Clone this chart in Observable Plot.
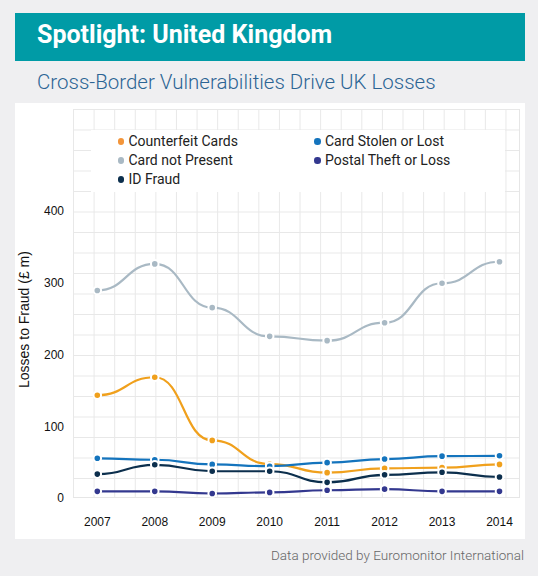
<!DOCTYPE html>
<html>
<head>
<meta charset="utf-8">
<script src="https://cdn.jsdelivr.net/npm/d3@7"></script>
<script src="https://cdn.jsdelivr.net/npm/@observablehq/plot@0.6"></script>
<style>
  html, body { margin: 0; padding: 0; }
  body { width: 538px; height: 576px; background: #efeff1; position: relative; overflow: hidden; font-family: Roboto, sans-serif; }
  .abs { position: absolute; }
  #banner { left: 15px; top: 13px; width: 510px; height: 48px; background: #009ba6; }
  #title { left: 37px; top: 13px; line-height: 44px; font-size: 25px; font-weight: 700; color: #fff; white-space: nowrap; }
  #subtitle { left: 37px; top: 70px; line-height: 24px; font-size: 20.5px; font-weight: 300; color: #2b6494; white-space: nowrap; }
  #panel { left: 15px; top: 103px; width: 510px; height: 436px; background: #fff; }
  #grid { left: 72.8px; top: 108.5px; width: 447px; height: 389.5px; box-sizing: border-box;
    border-right: 1px solid #e6e6e6; border-bottom: 1px solid #e6e6e6;
    background-image: linear-gradient(to right, #e8e8e8 1px, transparent 1px), linear-gradient(to bottom, #e8e8e8 1px, transparent 1px);
    background-size: 20.6px 20.5px; }
  #legend { left: 91px; top: 130px; width: 413.5px; height: 62px; background: #fff; }
  .item { position: absolute; font-size: 14px; color: #222; line-height: 18px; white-space: nowrap; }
  .item i { position: absolute; left: -11px; top: 6px; width: 6.5px; height: 6.5px; border-radius: 50%; }
  #chart { left: 0; top: 103px; }
  #caption { right: 14px; top: 545px; line-height: 20px; font-size: 13.5px; font-weight: 300; color: #666; white-space: nowrap; }
</style>
</head>
<body>
<div id="banner" class="abs"></div>
<div id="title" class="abs">Spotlight: United Kingdom</div>
<div id="subtitle" class="abs">Cross-Border Vulnerabilities Drive UK Losses</div>
<div id="panel" class="abs"></div>
<div id="grid" class="abs"></div>
<div id="legend" class="abs"></div>
<div id="chart" class="abs"></div>
<div id="caption" class="abs">Data provided by Euromonitor International</div>
<script>
// ---- data ----
const years = [2007, 2008, 2009, 2010, 2011, 2012, 2013, 2014];
const seriesNames = ["Counterfeit Cards", "Card Stolen or Lost", "Card not Present", "Postal Theft or Loss", "ID Fraud"];
const seriesColors = ["#f0a01c", "#1474bd", "#a9b9c4", "#33388f", "#0c2f4d"];
const legendColors = ["#f3953a", "#1474bd", "#a9b9c4", "#33388f", "#0c2f4d"];
const counterfeitCards = [144, 169, 81, 48, 36, 42, 43, 47.5];
const cardStolenOrLost = [56, 54, 47.5, 45, 50, 55, 59, 59.5];
const cardNotPresent = [290, 327, 266, 226, 220, 245, 300, 330];
const postalTheftOrLoss = [10, 10, 7, 8.5, 11.5, 13, 10, 10];
const idFraud = [34, 47, 38, 38, 22.5, 33, 36.5, 30];
const yTicks = [0, 100, 200, 300, 400];
const yLabel = "Losses to Fraud (£ m)";

const seriesValues = [counterfeitCards, cardStolenOrLost, cardNotPresent, postalTheftOrLoss, idFraud];
const rows = [];
seriesNames.forEach((name, i) => {
  years.forEach((year, j) => rows.push({series: name, year, value: seriesValues[i][j]}));
});

// ---- legend ----
const legend = document.getElementById("legend");
const legendPos = [[37.5, 2], [234, 2], [37.5, 21], [234, 21], [37.5, 40]];
seriesNames.forEach((name, i) => {
  const d = document.createElement("div");
  d.className = "item";
  d.style.left = legendPos[i][0] + "px";
  d.style.top = legendPos[i][1] + "px";
  d.innerHTML = `<i style="background:${legendColors[i]}"></i>`;
  d.appendChild(document.createTextNode(name));
  legend.appendChild(d);
});

// ---- chart ----
const chart = Plot.plot({
  width: 538,
  height: 436,
  marginLeft: 96.8,
  marginRight: 39,
  marginTop: 108,
  marginBottom: 41,
  style: {background: "transparent", fontFamily: "'Liberation Sans', Arial, sans-serif", color: "#111"},
  x: {domain: [2007, 2014]},
  y: {domain: [0, 400]},
  color: {domain: seriesNames, range: seriesColors},
  marks: [
    Plot.axisX({ticks: years, tickFormat: d => String(d), tickSize: 0, tickPadding: 19, fontSize: 12, label: null}),
    Plot.axisY({ticks: yTicks, tickSize: 0, tickPadding: 33.3, fontSize: 12, label: null}),
    Plot.text([yLabel], {frameAnchor: "left", text: d => d, rotate: -90, dx: -72.8, dy: 33, fontSize: 14, fill: "#111"}),
    Plot.line(rows, {x: "year", y: "value", z: "series", stroke: "series", strokeWidth: 2.2, curve: "bump-x"}),
    Plot.dot(rows, {x: "year", y: "value", fill: "series", stroke: "#fff", strokeWidth: 2, r: 3.8})
  ]
});
document.getElementById("chart").appendChild(chart);
</script>
</body>
</html>
